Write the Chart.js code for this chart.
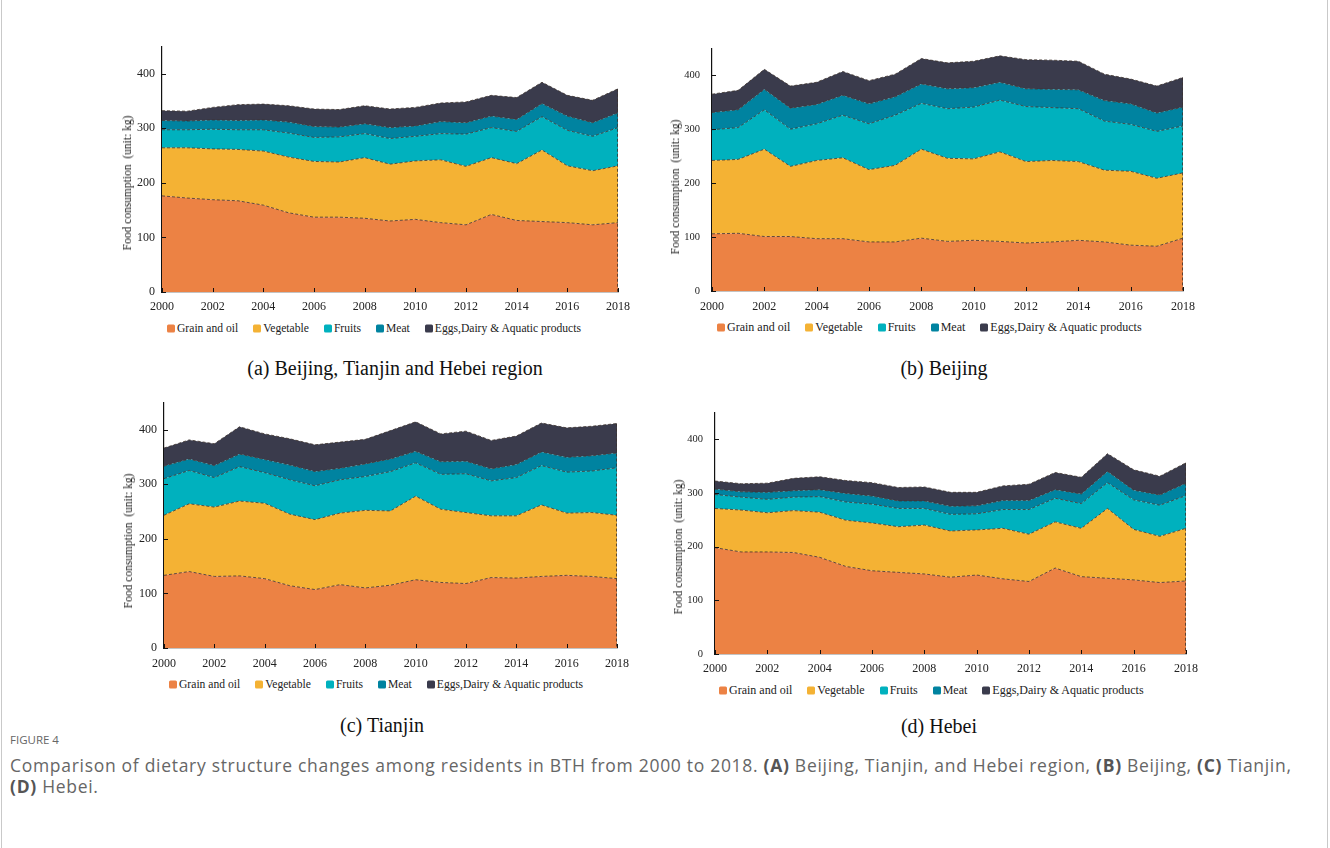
<!DOCTYPE html>
<html>
<head>
<meta charset="utf-8">
<script src="https://cdn.jsdelivr.net/npm/chart.js@4.4.1/dist/chart.umd.min.js"></script>
<style>
    body { margin: 0; background: #fff; width: 1330px; height: 848px; position: relative; overflow: hidden; font-family: "Liberation Serif", serif; }
    .frame { position: absolute; left: 1px; top: -2px; width: 1325px; height: 860px; border: 1px solid #c9c9c9; }
    canvas { position: absolute; }
    .ytitle { position: absolute; transform: translate(-50%, -50%) rotate(-90deg); white-space: pre; font-size: 11.5px; color: #222; }
    .legend { position: absolute; display: flex; align-items: center; white-space: nowrap; color: #222; transform: translateY(-50%); }
    .legend .item { display: flex; align-items: center; margin-right: 15px; }
    .legend .box { display: inline-block; width: 8px; height: 8px; border-radius: 1.5px; margin-right: 2px; }
    .sub { position: absolute; transform: translate(-50%, -50%); font-size: 20px; white-space: nowrap; color: #111; }
    .fig { position: absolute; left: 10px; top: 732px; font-family: "Open Sans", sans-serif; font-size: 11.5px; color: #666; }
    .cap { position: absolute; left: 10px; top: 755px; font-family: "Open Sans", sans-serif; font-size: 17.5px; letter-spacing: 0.7px; line-height: 21px; color: #666; white-space: nowrap; }
    .cap b { color: #555; }
</style>
</head>
<body>
<div class="frame"></div>
<div class="fig">FIGURE 4</div>
<div class="cap">Comparison of dietary structure changes among residents in BTH from 2000 to 2018. <b>(A)</b> Beijing, Tianjin, and Hebei region, <b>(B)</b> Beijing, <b>(C)</b> Tianjin,<br><b>(D)</b> Hebei.</div>
<script>
// years on the x axis, labels shown every two years
const years = ["2000", "2001", "2002", "2003", "2004", "2005", "2006", "2007", "2008", "2009",
               "2010", "2011", "2012", "2013", "2014", "2015", "2016", "2017", "2018"];
const xTickLabels = ["2000", "2002", "2004", "2006", "2008", "2010", "2012", "2014", "2016", "2018"];
const yTicks = [0, 100, 200, 300, 400];

const seriesNames = ["Grain and oil", "Vegetable", "Fruits", "Meat", "Eggs,Dairy & Aquatic products"];
const seriesColors = ["#EC8244", "#F4B234", "#00B1BE", "#0083A0", "#3A3B4C"];

// (a) Beijing, Tianjin and Hebei region  (kg per capita)
const grainBTH = [176, 172, 169, 167, 159, 145, 137, 137, 135, 130, 133, 127, 123, 142, 131, 129, 127, 123, 127];
const vegBTH   = [88, 92, 93, 94, 99, 102, 102, 101, 111, 104, 107, 115, 107, 104, 104, 131, 104, 99, 104];
const fruitBTH = [33, 33, 36, 36, 39, 44, 44, 46, 44, 47, 45, 48, 59, 55, 59, 61, 65, 63, 70];
const meatBTH  = [17, 16, 17, 17, 18, 20, 20, 18, 18, 20, 19, 22, 21, 21, 22, 24, 26, 25, 27];
const eggBTH   = [18, 18, 23, 29, 29, 30, 32, 32, 33, 34, 34, 34, 38, 38, 40, 39, 38, 41, 44];

// (b) Beijing
const grainBJ = [106, 107, 101, 101, 97, 97, 91, 91, 98, 92, 94, 92, 89, 91, 94, 91, 85, 83, 98];
const vegBJ   = [136, 137, 162, 130, 145, 150, 134, 142, 165, 154, 151, 166, 151, 151, 146, 133, 137, 126, 121];
const fruitBJ = [57, 59, 73, 69, 68, 79, 85, 93, 85, 92, 96, 96, 102, 98, 98, 91, 87, 87, 87];
const meatBJ  = [32, 33, 38, 39, 36, 37, 37, 34, 36, 37, 36, 33, 33, 34, 35, 38, 38, 34, 35];
const eggBJ   = [34, 36, 37, 41, 41, 44, 43, 42, 47, 48, 49, 49, 54, 54, 53, 49, 46, 50, 55];

// (c) Tianjin
const grainTJ = [133, 140, 131, 132, 127, 114, 107, 116, 110, 115, 125, 120, 118, 129, 128, 131, 133, 131, 127];
const vegTJ   = [110, 124, 127, 137, 138, 131, 128, 131, 142, 136, 153, 134, 130, 113, 114, 131, 114, 117, 116];
const fruitTJ = [67, 61, 54, 63, 56, 63, 62, 61, 62, 72, 61, 64, 71, 64, 70, 72, 75, 76, 87];
const meatTJ  = [23, 21, 22, 23, 24, 27, 26, 21, 23, 23, 21, 23, 23, 22, 24, 25, 27, 28, 27];
const eggTJ   = [33, 35, 40, 50, 47, 48, 49, 48, 45, 52, 54, 51, 55, 52, 52, 53, 54, 54, 54];

// (d) Hebei
const grainHB = [198, 190, 190, 189, 180, 163, 155, 152, 149, 143, 147, 140, 135, 160, 144, 141, 138, 133, 136];
const vegHB   = [73, 78, 73, 78, 84, 86, 89, 85, 91, 86, 84, 94, 88, 86, 90, 130, 94, 86, 98];
const fruitHB = [26, 24, 25, 25, 29, 34, 35, 34, 31, 31, 30, 35, 46, 44, 46, 48, 55, 58, 61];
const meatHB  = [10, 10, 13, 12, 13, 16, 15, 14, 14, 15, 15, 17, 17, 16, 18, 21, 18, 19, 23];
const eggHB   = [15, 15, 17, 23, 24, 24, 25, 25, 26, 26, 25, 27, 30, 32, 31, 33, 38, 35, 38];

const panels = [
    { series: [grainBTH, vegBTH, fruitBTH, meatBTH, eggBTH], caption: "(a) Beijing, Tianjin and Hebei region",
      plot: { left: 162, right: 618, top: 42, bottom: 292 }, xPad: 8, yPad: 7, yFont: 12,
      ytitle: [127, 183], legend: [167, 328], legendFont: 11.6, cap: [395, 368] },
    { series: [grainBJ, vegBJ, fruitBJ, meatBJ, eggBJ], caption: "(b) Beijing",
      plot: { left: 712, right: 1183, top: 40, bottom: 291 }, xPad: 9, yPad: 12, yFont: 10.5,
      ytitle: [675, 187], legend: [717, 327], legendFont: 12, cap: [944, 368] },
    { series: [grainTJ, vegTJ, fruitTJ, meatTJ, eggTJ], caption: "(c) Tianjin",
      plot: { left: 164, right: 617, top: 398, bottom: 648 }, xPad: 9, yPad: 7, yFont: 12,
      ytitle: [128, 541], legend: [169, 684], legendFont: 11.6, cap: [382, 725] },
    { series: [grainHB, vegHB, fruitHB, meatHB, eggHB], caption: "(d) Hebei",
      plot: { left: 715, right: 1186, top: 404, bottom: 654 }, xPad: 8, yPad: 12, yFont: 10.5,
      ytitle: [678, 547], legend: [719, 690], legendFont: 12, cap: [939, 726] },
];

// inward tick marks and the dashed closing edge at 2018
const axisExtras = {
    id: "axisExtras",
    afterDatasetsDraw(chart) {
        const { ctx, scales: { x, y } } = chart;
        ctx.save();
        ctx.strokeStyle = "#111";
        ctx.lineWidth = 1;
        ctx.beginPath();
        yTicks.forEach(v => {
            const py = Math.round(y.getPixelForValue(v)) + 0.5;
            ctx.moveTo(x.left, py);
            ctx.lineTo(x.left + 4, py);
        });
        xTickLabels.forEach(l => {
            const px = Math.round(x.getPixelForValue(years.indexOf(l))) + 0.5;
            ctx.moveTo(px, y.bottom);
            ctx.lineTo(px, y.bottom - 4);
        });
        ctx.stroke();

        const last = years.length - 1;
        const topPt = chart.getDatasetMeta(chart.data.datasets.length - 1).data[last];
        ctx.strokeStyle = "rgba(60,50,45,0.8)";
        ctx.setLineDash([3, 2]);
        ctx.beginPath();
        ctx.moveTo(topPt.x - 0.5, topPt.y);
        ctx.lineTo(topPt.x - 0.5, y.bottom);
        ctx.stroke();
        ctx.restore();
    }
};

function makePanel(p) {
    const yw = 40, padTop = 10, padRight = 22, xh = 24;
    const canvas = document.createElement("canvas");
    const L = p.plot.left - yw, T = p.plot.top - padTop;
    canvas.width = p.plot.right - L + padRight;
    canvas.height = padTop + (p.plot.bottom - p.plot.top) + xh;
    canvas.style.left = L + "px";
    canvas.style.top = T + "px";
    document.body.appendChild(canvas);

    new Chart(canvas, {
        type: "line",
        data: {
            labels: years,
            datasets: seriesNames.map((name, i) => ({
                label: name,
                data: p.series[i],
                backgroundColor: seriesColors[i],
                borderColor: "rgba(60,50,45,0.8)",
                borderWidth: 1,
                borderDash: [3, 2],
                fill: i === 0 ? "origin" : "-1",
                pointRadius: 0,
                tension: 0,
            })),
        },
        options: {
            responsive: false,
            animation: false,
            layout: { padding: { top: padTop, right: padRight, left: 0, bottom: 0 } },
            plugins: { legend: { display: false }, tooltip: { enabled: false } },
            scales: {
                x: {
                    offset: false,
                    grid: { display: true, drawOnChartArea: false, drawTicks: false },
                    border: { display: true, color: "#111", width: 1.2 },
                    ticks: {
                        autoSkip: false, maxRotation: 0, padding: p.xPad, color: "#222",
                        font: { family: "Liberation Serif", size: 12 },
                        callback: (v, i) => xTickLabels.includes(years[i]) ? years[i] : "",
                    },
                    afterFit: s => { s.height = xh; },
                },
                y: {
                    stacked: true,
                    min: 0,
                    max: 450,
                    grid: { display: true, drawOnChartArea: false, drawTicks: false },
                    border: { display: true, color: "#111", width: 1.2 },
                    ticks: {
                        stepSize: 100, padding: p.yPad, color: "#222",
                        font: { family: "Liberation Serif", size: p.yFont },
                        callback: v => yTicks.includes(v) ? v : "",
                    },
                    afterFit: s => { s.width = yw; },
                },
            },
        },
        plugins: [axisExtras],
    });

    const t = document.createElement("div");
    t.className = "ytitle";
    t.textContent = "Food consumption  (unit: kg)";
    t.style.left = p.ytitle[0] + "px";
    t.style.top = p.ytitle[1] + "px";
    document.body.appendChild(t);

    const lg = document.createElement("div");
    lg.className = "legend";
    lg.style.left = p.legend[0] + "px";
    lg.style.top = p.legend[1] + "px";
    lg.style.fontSize = p.legendFont + "px";
    seriesNames.forEach((name, i) => {
        const item = document.createElement("span");
        item.className = "item";
        const box = document.createElement("span");
        box.className = "box";
        box.style.background = seriesColors[i];
        item.appendChild(box);
        item.appendChild(document.createTextNode(name));
        lg.appendChild(item);
    });
    document.body.appendChild(lg);

    const c = document.createElement("div");
    c.className = "sub";
    c.textContent = p.caption;
    c.style.left = p.cap[0] + "px";
    c.style.top = p.cap[1] + "px";
    document.body.appendChild(c);
}

panels.forEach(makePanel);
</script>
</body>
</html>
